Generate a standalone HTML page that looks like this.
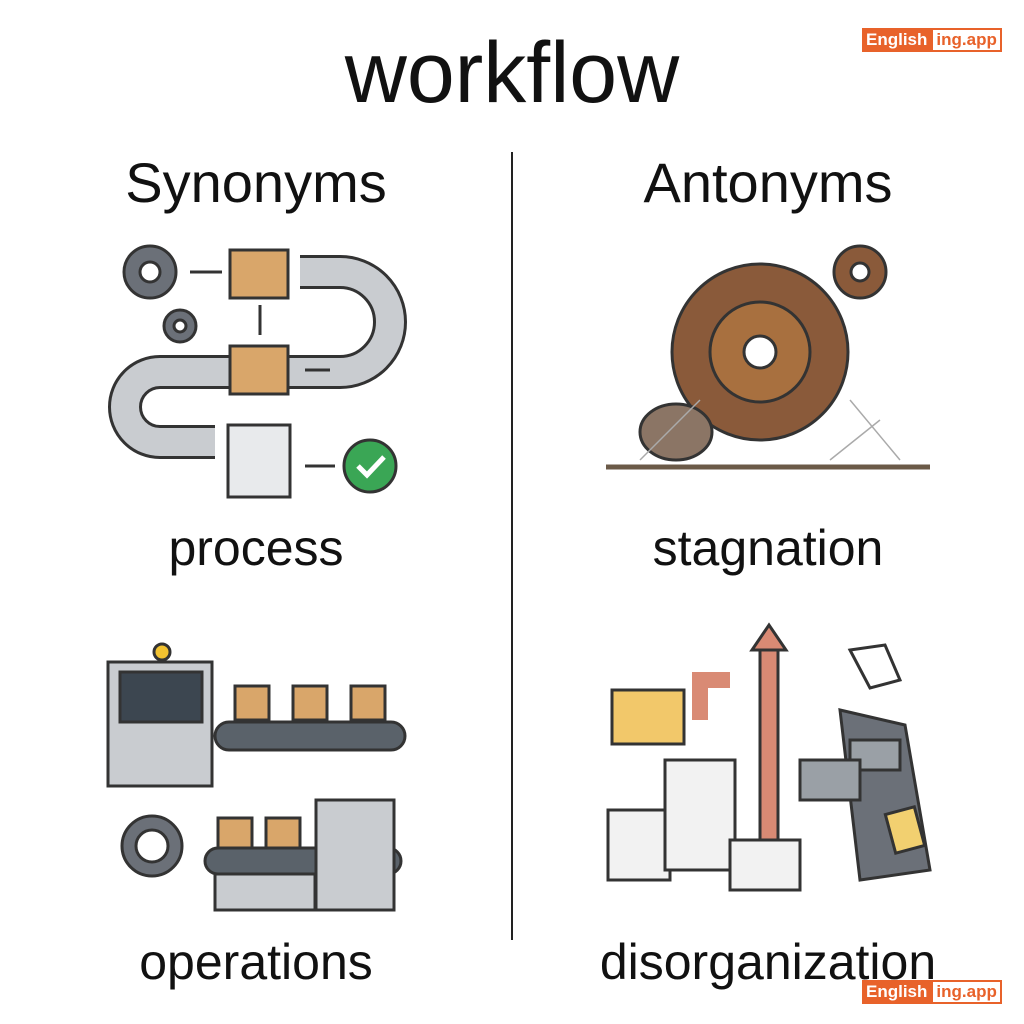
<!DOCTYPE html>
<html><head><meta charset="utf-8"><style>
html,body{margin:0;padding:0;background:#fff;}
body{width:1024px;height:1024px;position:relative;overflow:hidden;font-family:"Liberation Sans",sans-serif;color:#111;}
.t{position:absolute;text-align:center;white-space:nowrap;}
.logo{position:absolute;height:24px;display:flex;font-family:"Liberation Sans",sans-serif;font-weight:bold;font-size:17px;line-height:24px;}
.logo .a{background:#e8622a;color:#fff;padding:0 4px;}
.logo .b{border:2px solid #e8622a;color:#e8622a;padding:0 3px;line-height:20px;background:#fff;}
</style></head><body>
<div class="t" style="left:0;width:1024px;top:24px;font-size:86px;">workflow</div>
<div class="t" style="left:56px;width:400px;top:150px;font-size:56px;">Synonyms</div>
<div class="t" style="left:568px;width:400px;top:150px;font-size:56px;">Antonyms</div>
<div class="t" style="left:56px;width:400px;top:519px;font-size:50px;">process</div>
<div class="t" style="left:568px;width:400px;top:519px;font-size:50px;">stagnation</div>
<div class="t" style="left:56px;width:400px;top:933px;font-size:50px;">operations</div>
<div class="t" style="left:568px;width:400px;top:933px;font-size:50px;">disorganization</div>
<div style="position:absolute;left:511px;top:152px;width:2px;height:788px;background:#222;"></div>
<div class="logo" style="left:862px;top:28px;"><span class="a">English</span><span class="b">ing.app</span></div>
<div class="logo" style="left:862px;top:980px;"><span class="a">English</span><span class="b">ing.app</span></div>

<svg style="position:absolute;left:0;top:0" width="1024" height="1024">
<!-- process -->
<g stroke="#333" stroke-width="3">
<path d="M300 272 H340 A50 50 0 0 1 340 372 H160 A35 35 0 0 0 160 442 H215" fill="none" stroke="#333" stroke-width="34"/>
<path d="M300 272 H340 A50 50 0 0 1 340 372 H160 A35 35 0 0 0 160 442 H215" fill="none" stroke="#c9ccd0" stroke-width="28"/>
<circle cx="150" cy="272" r="26" fill="#6b7078"/><circle cx="150" cy="272" r="10" fill="#fff"/>
<circle cx="180" cy="326" r="16" fill="#6b7078"/><circle cx="180" cy="326" r="6" fill="#fff"/>
<rect x="230" y="250" width="58" height="48" fill="#d9a66a"/>
<rect x="230" y="346" width="58" height="48" fill="#d9a66a"/>
<rect x="228" y="425" width="62" height="72" fill="#e8eaec"/>
<circle cx="370" cy="466" r="26" fill="#3aa655"/>
<path d="M358 466 l9 9 l17 -18" fill="none" stroke="#fff" stroke-width="5"/>
<path d="M190 272 H222 M260 305 V335 M330 370 H305 M305 466 H335" fill="none"/>
</g>
<!-- stagnation -->
<g stroke="#333" stroke-width="3">
<line x1="606" y1="467" x2="930" y2="467" stroke="#6b5a48" stroke-width="5"/>
<circle cx="760" cy="352" r="88" fill="#8a5a3a"/>
<circle cx="760" cy="352" r="50" fill="#a8703f"/>
<circle cx="760" cy="352" r="16" fill="#fff"/>
<circle cx="860" cy="272" r="26" fill="#8a5a3a"/><circle cx="860" cy="272" r="9" fill="#fff"/>
<ellipse cx="676" cy="432" rx="36" ry="28" fill="#8b7565"/>
<path d="M640 460 L700 400 M830 460 L880 420 M900 460 L850 400" stroke="#aaa" stroke-width="1.5" fill="none"/>
</g>
<!-- operations -->
<g stroke="#333" stroke-width="3">
<rect x="108" y="662" width="104" height="124" fill="#c9ccd0"/>
<rect x="120" y="672" width="82" height="50" fill="#3c4650"/>
<rect x="215" y="722" width="190" height="28" rx="14" fill="#5a626a"/>
<rect x="235" y="686" width="34" height="34" fill="#d9a66a"/>
<rect x="293" y="686" width="34" height="34" fill="#d9a66a"/>
<rect x="351" y="686" width="34" height="34" fill="#d9a66a"/>
<circle cx="162" cy="652" r="8" fill="#f2c230"/>
<rect x="205" y="848" width="196" height="26" rx="13" fill="#5a626a"/>
<rect x="316" y="800" width="78" height="110" fill="#c9ccd0"/>
<rect x="218" y="818" width="34" height="30" fill="#d9a66a"/>
<rect x="266" y="818" width="34" height="30" fill="#d9a66a"/>
<rect x="215" y="874" width="100" height="36" fill="#c9ccd0"/>
<circle cx="152" cy="846" r="30" fill="#6b7078"/><circle cx="152" cy="846" r="16" fill="#fff"/>
</g>
<!-- disorganization -->
<g stroke="#333" stroke-width="3">
<rect x="760" y="640" width="18" height="220" fill="#d98a74"/>
<path d="M752 650 L769 625 L786 650 Z" fill="#d98a74"/>
<path d="M700 720 V680 H730" fill="none" stroke="#d98a74" stroke-width="16"/>
<rect x="612" y="690" width="72" height="54" fill="#f2c86a"/>
<path d="M840 710 L905 725 L930 870 L860 880 Z" fill="#6b7078"/>
<rect x="850" y="740" width="50" height="30" fill="#9aa0a6"/>
<rect x="800" y="760" width="60" height="40" fill="#9aa0a6"/>
<rect x="608" y="810" width="62" height="70" fill="#f2f2f2"/>
<rect x="665" y="760" width="70" height="110" fill="#f2f2f2"/>
<rect x="730" y="840" width="70" height="50" fill="#f2f2f2"/>
<rect x="890" y="810" width="30" height="40" fill="#f2d070" transform="rotate(-15 905 830)"/>
<path d="M850 650 L885 645 L900 680 L870 688 Z" fill="#fff"/>
</g>
</svg>
</body></html>
